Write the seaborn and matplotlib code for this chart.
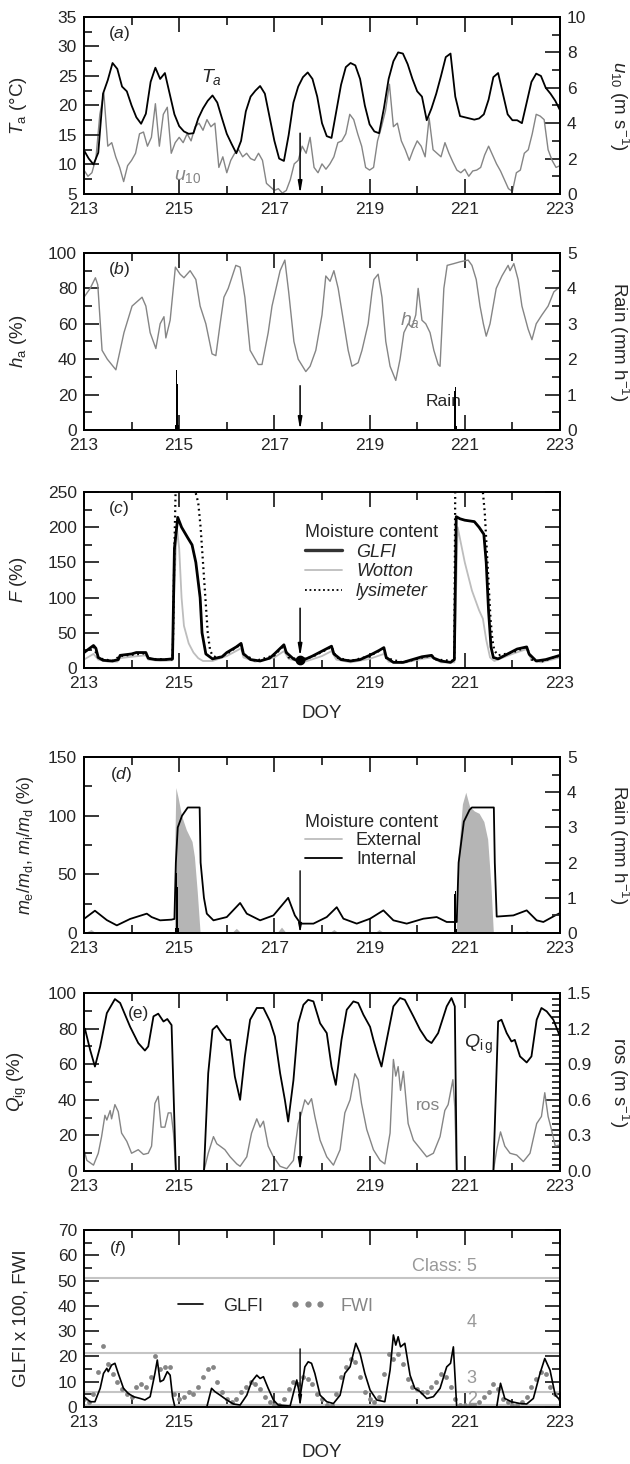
import numpy as np
import matplotlib
matplotlib.use("Agg")
import matplotlib.pyplot as plt
import seaborn as sns
from matplotlib.ticker import FixedLocator, MultipleLocator
from matplotlib.lines import Line2D

sns.set_style("ticks")
plt.rcParams["font.family"] = ["Liberation Sans", "DejaVu Sans"]
plt.rcParams["mathtext.fontset"] = "custom"
plt.rcParams["mathtext.rm"] = "Liberation Sans"
plt.rcParams["mathtext.it"] = "Liberation Sans:italic"
plt.rcParams["mathtext.bf"] = "Liberation Sans:bold"
plt.rcParams["axes.linewidth"] = 1.4
plt.rcParams["axes.edgecolor"] = "black"

# ---------------- data ----------------
# (a) air temperature, 0.1 day steps, and 10 m wind, 2-hourly
doy_ta = 213 + np.arange(101) / 10
ta = [12.4, 11.0, 10.0, 12.0, 22.0, 24.3, 27.2, 26.2, 23.2, 22.4,
      20.0, 18.0, 16.9, 18.6, 24.0, 26.4, 24.5, 25.5, 22.0, 18.5,
      16.5, 15.6, 15.2, 15.3, 17.8, 19.5, 20.8, 21.7, 20.5, 17.8,
      15.2, 13.5, 11.9, 14.0, 19.0, 21.5, 22.5, 23.3, 22.0, 18.0,
      14.0, 11.0, 10.6, 15.0, 20.5, 23.2, 24.8, 25.6, 24.5, 21.5,
      17.0, 14.8, 14.5, 19.0, 23.5, 26.5, 27.2, 26.8, 24.5, 20.0,
      16.8, 15.6, 15.3, 19.5, 24.5, 27.5, 29.0, 28.8, 27.0, 24.5,
      22.4, 21.5, 17.5, 19.5, 22.0, 25.0, 28.2, 28.8, 21.5, 18.2,
      18.0, 17.8, 17.6, 17.8, 18.5, 21.0, 24.8, 25.5, 22.0, 18.5,
      17.5, 17.5, 17.0, 20.5, 24.0, 25.4, 25.0, 23.0, 22.0, 20.8,
      19.2]
doy_u = 213 + np.arange(121) / 12
u10 = [1.35, 1.0, 1.2, 2.0, 4.5, 5.7, 2.7, 2.9, 2.1, 1.5,
       0.7, 1.6, 1.9, 2.3, 3.4, 3.5, 2.7, 3.2, 5.1, 2.7,
       4.5, 4.9, 2.3, 2.9, 3.2, 2.9, 3.4, 3.0, 3.8, 4.0,
       3.6, 4.2, 3.8, 4.0, 1.5, 2.1, 1.2, 1.9, 2.3, 2.5,
       2.1, 2.3, 2.0, 1.9, 2.3, 1.9, 0.6, 0.4, 0.2, 0.3,
       0.05, 0.2, 0.8, 1.7, 1.9, 2.7, 2.3, 3.2, 1.5, 1.2,
       1.7, 1.4, 1.7, 2.1, 2.9, 3.0, 3.4, 4.5, 4.2, 3.4,
       2.7, 1.5, 1.35, 1.5, 3.0, 3.8, 4.7, 6.2, 3.8, 4.0,
       3.0, 2.5, 1.9, 2.5, 3.0, 2.7, 2.1, 4.3, 2.5, 2.3,
       2.1, 2.9, 2.3, 1.8, 1.35, 1.2, 1.4, 1.0, 1.3, 1.35,
       1.5, 2.2, 2.7, 2.2, 1.7, 1.3, 0.8, 0.3, 0.15, 1.2,
       1.35, 2.3, 2.5, 3.4, 4.5, 4.4, 4.2, 2.5, 1.9, 1.5,
       1.6]

# (b) relative humidity and rain
ha_doy = [213.00, 213.13, 213.24, 213.29, 213.38, 213.49, 213.67, 213.84, 214.01, 214.22,
          214.30, 214.39, 214.51, 214.60, 214.68, 214.72, 214.81, 214.92, 215.02, 215.10,
          215.23, 215.35, 215.44, 215.56, 215.69, 215.77, 215.86, 215.94, 216.03, 216.19,
          216.28, 216.38, 216.49, 216.66, 216.74, 216.87, 216.95, 217.12, 217.22, 217.30,
          217.41, 217.50, 217.66, 217.75, 217.87, 218.00, 218.08, 218.17, 218.25, 218.34,
          218.46, 218.55, 218.63, 218.76, 218.84, 218.97, 219.05, 219.09, 219.18, 219.26,
          219.34, 219.43, 219.55, 219.64, 219.72, 219.81, 219.89, 219.97, 220.02, 220.10,
          220.18, 220.27, 220.35, 220.44, 220.48, 220.56, 220.63, 220.77, 220.90, 221.07,
          221.15, 221.24, 221.32, 221.39, 221.45, 221.53, 221.66, 221.78, 221.91, 221.95,
          222.03, 222.12, 222.20, 222.33, 222.41, 222.50, 222.62, 222.75, 222.87, 223.00]
ha = [75, 80, 86, 82, 45, 40, 34, 55, 70, 75,
      70, 55, 46, 60, 64, 52, 62, 92, 88, 86,
      90, 85, 70, 60, 43, 42, 60, 75, 80, 93,
      92, 75, 45, 37, 37, 55, 70, 90, 96, 78,
      50, 40, 33, 36, 45, 65, 87, 84, 90, 80,
      60, 45, 36, 38, 45, 60, 78, 85, 88, 75,
      50, 36, 28, 40, 55, 60, 58, 65, 80, 62,
      60, 55, 45, 37, 36, 80, 93, 94, 95, 96,
      93, 85, 70, 60, 53, 60, 80, 87, 93, 90,
      94, 85, 70, 57, 51, 60, 65, 70, 78, 81]
rain_doy = [214.92, 214.945, 214.965, 214.985, 220.785, 220.805, 220.825]
rain = [0.15, 1.7, 1.3, 0.15, 1.1, 1.2, 0.1]

# (c) fuel moisture content
glfi_doy = [213.0, 213.1, 213.2, 213.25, 213.3, 213.4, 213.6, 213.72, 213.76, 214.0,
            214.1, 214.3, 214.35, 214.5, 214.7, 214.86, 214.9, 214.97, 215.05, 215.18,
            215.27, 215.35, 215.44, 215.48, 215.56, 215.7, 215.9, 216.0, 216.2, 216.3,
            216.35, 216.5, 216.7, 216.9, 217.0, 217.2, 217.25, 217.4, 217.5, 217.6,
            217.8, 218.0, 218.2, 218.25, 218.4, 218.6, 218.8, 219.0, 219.2, 219.3,
            219.35, 219.5, 219.7, 219.9, 220.1, 220.3, 220.35, 220.5, 220.7, 220.78,
            220.82, 220.9, 221.0, 221.2, 221.3, 221.4, 221.45, 221.5, 221.55, 221.6,
            221.7, 221.9, 222.1, 222.3, 222.35, 222.5, 222.7, 222.9, 223.0]
glfi_f = [22, 27, 32, 28, 15, 11, 10, 12, 18, 20,
          22, 22, 14, 12, 12, 13, 170, 214, 200, 185,
          175, 150, 100, 50, 20, 13, 16, 22, 30, 35,
          20, 12, 10, 14, 20, 33, 22, 13, 10, 11,
          17, 24, 31, 20, 12, 10, 12, 18, 25, 29,
          15, 8, 8, 12, 16, 18, 14, 10, 8, 12,
          215, 212, 210, 208, 200, 190, 150, 80, 30, 15,
          13, 20, 27, 30, 20, 10, 12, 16, 18]
wot_doy = [213.0, 213.2, 213.3, 213.5, 213.7, 213.76, 214.0, 214.3, 214.35, 214.6,
           214.86, 214.9, 214.95, 215.0, 215.05, 215.1, 215.2, 215.3, 215.4, 215.5,
           215.7, 216.0, 216.3, 216.35, 216.6, 217.0, 217.2, 217.3, 217.6, 218.0,
           218.2, 218.3, 218.6, 219.0, 219.3, 219.4, 219.7, 220.1, 220.3, 220.5,
           220.78, 220.85, 221.0, 221.15, 221.3, 221.38, 221.45, 221.53, 221.62, 222.0,
           222.3, 222.4, 222.6, 223.0]
wot_f = [12, 20, 12, 9, 9, 14, 16, 18, 12, 10,
         11, 120, 200, 170, 100, 60, 35, 22, 14, 10,
         10, 17, 28, 15, 9, 15, 24, 13, 8, 17,
         24, 12, 8, 13, 20, 9, 7, 13, 15, 8,
         8, 200, 150, 110, 82, 70, 40, 15, 10, 20,
         27, 12, 8, 15]
lys_doy = [213.0, 213.2, 213.3, 213.6, 213.76, 214.3, 214.35, 214.86, 214.87, 214.9,
           214.93, 215.3, 215.35, 215.4, 215.45, 215.5, 215.55, 215.6, 215.65, 215.7,
           215.8, 216.0, 216.3, 216.35, 216.6, 217.0, 217.2, 217.3, 217.54, 217.8,
           218.2, 218.3, 218.6, 219.0, 219.3, 219.35, 219.7, 220.3, 220.4, 220.78,
           220.8, 221.36, 221.42, 221.46, 221.5, 221.54, 221.58, 221.62, 221.7, 222.0,
           222.3, 222.4, 222.6, 223.0]
lys_f = [22, 30, 14, 10, 17, 21, 13, 12, 40, 170,
         270, 265, 248, 235, 200, 150, 100, 50, 25, 18,
         14, 20, 34, 20, 10, 18, 32, 15, 12, 16,
         30, 15, 10, 17, 28, 14, 8, 18, 12, 10,
         270, 265, 220, 170, 120, 70, 40, 25, 18, 22,
         30, 12, 9, 18]

# (d) internal and external moisture ratio
int_doy = [213.0, 213.23, 213.48, 213.69, 213.97, 214.32, 214.42, 214.6, 214.84, 214.9,
           214.93, 214.97, 215.06, 215.18, 215.43, 215.45, 215.52, 215.58, 215.72, 216.0,
           216.28, 216.42, 216.7, 216.98, 217.29, 217.43, 217.55, 217.82, 218.1, 218.31,
           218.45, 218.73, 219.01, 219.29, 219.5, 219.78, 220.13, 220.41, 220.62, 220.83,
           220.87, 220.98, 221.1, 221.15, 221.61, 221.63, 221.67, 222.02, 222.3, 222.51,
           222.65, 222.9, 223.0]
int_m = [12, 19, 11, 6.5, 12, 16.5, 13.6, 10.8, 11.4, 12,
         60, 90, 100, 107, 107, 60, 30, 16.5, 10.8, 13.6,
         25.6, 16.5, 10.8, 15, 30, 15, 8, 8, 13.6, 22,
         12.2, 8, 12.2, 19.3, 10.8, 8, 12.2, 13.6, 9.4, 9.4,
         60, 95, 105, 107, 107, 60, 14, 15, 19.3, 10.8,
         9.4, 15, 17]
ext_doy = [213.0, 213.1, 213.15, 213.25, 214.9, 214.91, 214.93, 214.98, 215.05, 215.15,
           215.27, 215.32, 215.38, 215.44, 216.1, 216.2, 216.3, 217.05, 217.15, 217.25,
           218.15, 218.25, 218.35, 219.1, 219.2, 219.3, 220.82, 220.85, 220.95, 221.02,
           221.1, 221.2, 221.3, 221.4, 221.48, 221.55, 221.6, 222.2, 222.3, 222.4,
           223.0]
ext_m = [0, 2, 3, 0, 0, 80, 124, 115, 100, 88,
         78, 65, 35, 0, 0, 4, 0, 0, 5, 0,
         0, 3, 0, 0, 3, 0, 0, 60, 110, 120,
         108, 104, 102, 95, 80, 40, 0, 0, 2, 0,
         0]

# (e) probability of ignition and rate of spread
q_doy = [213.02, 213.13, 213.23, 213.34, 213.48, 213.65, 213.76, 213.97, 214.14, 214.28,
         214.35, 214.46, 214.56, 214.67, 214.75, 214.84, 214.88, 214.93, 215.52, 215.61,
         215.70, 215.79, 215.89, 216.00, 216.07, 216.17, 216.28, 216.38, 216.49, 216.63,
         216.77, 216.91, 217.01, 217.12, 217.22, 217.29, 217.40, 217.50, 217.61, 217.71,
         217.82, 217.96, 218.10, 218.20, 218.29, 218.41, 218.52, 218.66, 218.76, 218.87,
         219.01, 219.08, 219.18, 219.25, 219.36, 219.50, 219.64, 219.74, 219.92, 220.06,
         220.20, 220.30, 220.44, 220.62, 220.72, 220.79, 220.83, 221.60, 221.70, 221.77,
         221.88, 221.98, 222.05, 222.16, 222.30, 222.40, 222.51, 222.61, 222.72, 222.86,
         223.00]
q_ig = [80, 68, 58.7, 70, 88.7, 96.6, 94.4, 81, 71.9, 67.7,
        70, 86.9, 88.4, 84, 85.4, 82, 45.6, 0, 0, 55,
        79.4, 81.6, 77.5, 73.7, 73.7, 53, 40, 64.4, 85, 91.6,
        91.6, 84, 75.6, 55, 40, 27.8, 51, 83, 93.4, 96.2,
        95.3, 83, 77.5, 58.7, 48.4, 73.7, 90.6, 95.3, 94.4, 87.8,
        81, 73.7, 64.4, 58.7, 73.7, 92.5, 97.2, 96.2, 86.9, 79.4,
        73.7, 71.9, 77.5, 92.5, 97.2, 92.5, 0, 0, 84, 85,
        77.5, 72.8, 73.7, 64.4, 61, 64.4, 85, 91.6, 89.7, 85,
        75.6]
ros_doy = [213.00, 213.06, 213.20, 213.30, 213.37, 213.44, 213.48, 213.55, 213.58, 213.65,
           213.72, 213.79, 213.90, 214.00, 214.14, 214.25, 214.35, 214.42, 214.49, 214.56,
           214.62, 214.70, 214.77, 214.83, 214.88, 214.93, 215.52, 215.61, 215.72, 215.79,
           215.86, 215.96, 216.07, 216.21, 216.28, 216.42, 216.52, 216.63, 216.70, 216.77,
           216.87, 216.98, 217.12, 217.26, 217.40, 217.50, 217.57, 217.64, 217.71, 217.78,
           217.85, 217.96, 218.10, 218.24, 218.38, 218.48, 218.59, 218.69, 218.76, 218.83,
           218.94, 219.08, 219.22, 219.32, 219.43, 219.50, 219.55, 219.60, 219.65, 219.71,
           219.81, 219.92, 220.02, 220.20, 220.34, 220.48, 220.58, 220.65, 220.75, 220.79,
           220.83, 221.60, 221.67, 221.75, 221.84, 221.95, 222.09, 222.23, 222.37, 222.51,
           222.61, 222.68, 222.75, 222.82, 222.90, 223.00]
ros = [0.18, 0.09, 0.05, 0.15, 0.29, 0.47, 0.43, 0.51, 0.44, 0.56,
       0.50, 0.32, 0.25, 0.15, 0.18, 0.14, 0.15, 0.21, 0.57, 0.63,
       0.37, 0.37, 0.49, 0.49, 0.32, 0.0, 0.0, 0.15, 0.29, 0.23,
       0.21, 0.18, 0.12, 0.06, 0.04, 0.12, 0.32, 0.44, 0.37, 0.42,
       0.21, 0.12, 0.04, 0.02, 0.09, 0.40, 0.49, 0.60, 0.56, 0.61,
       0.46, 0.26, 0.12, 0.05, 0.18, 0.49, 0.60, 0.82, 0.77, 0.57,
       0.35, 0.18, 0.09, 0.06, 0.32, 0.94, 0.80, 0.88, 0.68, 0.84,
       0.40, 0.26, 0.21, 0.12, 0.15, 0.29, 0.51, 0.56, 0.77, 0.54,
       0.0, 0.0, 0.18, 0.33, 0.21, 0.15, 0.135, 0.08, 0.15, 0.40,
       0.46, 0.66, 0.46, 0.35, 0.21, 0.22]

# (f) fire danger indices
gl_doy = [213.00, 213.13, 213.23, 213.34, 213.41, 213.48, 213.51, 213.58, 213.65, 213.72,
          213.83, 213.93, 214.04, 214.18, 214.28, 214.39, 214.49, 214.54, 214.60, 214.67,
          214.75, 214.81, 214.86, 214.91, 215.58, 215.68, 215.75, 215.86, 216.00, 216.14,
          216.28, 216.42, 216.52, 216.63, 216.70, 216.77, 216.87, 216.98, 217.08, 217.33,
          217.47, 217.54, 217.64, 217.71, 217.78, 217.85, 217.96, 218.10, 218.24, 218.38,
          218.48, 218.59, 218.71, 218.80, 218.90, 219.01, 219.15, 219.32, 219.43, 219.50,
          219.55, 219.60, 219.65, 219.74, 219.85, 219.95, 220.06, 220.20, 220.34, 220.48,
          220.62, 220.70, 220.76, 220.83, 221.67, 221.75, 221.84, 221.98, 222.16, 222.30,
          222.44, 222.58, 222.68, 222.79, 222.90, 223.00]
glfi100 = [4.1, 2.1, 2.1, 7.4, 13.3, 15.3, 14, 16.6, 17.3, 13.3,
           7.4, 5.4, 4.1, 3.4, 2.8, 4.1, 13.3, 18.6, 10, 10.7,
           14, 12.6, 4.1, 0, 0, 7.4, 6.1, 4.7, 2.8, 1.2,
           0.8, 4.7, 10, 12.6, 11.3, 12, 7.4, 2.8, 0.8, 0.4,
           10.7, 4.1, 15.9, 17.9, 17.3, 13.3, 4.7, 2.1, 1.4, 4.7,
           13.3, 15.9, 25.2, 21.2, 13.3, 6.7, 2.8, 2.1, 14.6, 28.5,
           24.5, 27.8, 23.8, 25.2, 12.6, 7.4, 6.1, 3.4, 4.1, 7.4,
           15.9, 17.3, 23.8, 0, 0, 9.4, 3.4, 2.1, 1.4, 1.2,
           3.4, 13.3, 19.2, 14.6, 4.7, 2.8]
doy_fwi = 213 + np.arange(101) / 10
fwi = [3, 2, 5, 14, 24, 17, 13, 10, 7, 5,
       4, 8, 9, 8, 12, 20, 15, 16, 16, 5,
       3, 4, 6, 5, 8, 12, 15, 16, 10, 6,
       3, 2, 3, 6, 8, 10, 9, 7, 4, 2,
       1, 1, 3, 7, 10, 9, 12, 11, 9, 5,
       3, 1, 1, 5, 12, 16, 19, 18, 12, 6,
       3, 2, 4, 13, 21, 19, 21, 17, 11, 8,
       7, 6, 6, 8, 10, 13, 12, 8, 3, 1,
       1, 1, 1, 2, 4, 6, 9, 7, 3, 2,
       1, 1, 2, 4, 8, 11, 14, 13, 8, 5,
       3]
class_bounds = [0.8, 6.0, 21.3, 51.2]
class_labels = ["2", "3", "4", "Class: 5"]
class_label_y = [2.8, 11.2, 33.3, 55.7]

arrow_doy = 217.54

# ---------------- figure ----------------
fig = plt.figure(figsize=(6.3, 14.64), dpi=100)
L, W = 0.1333, 0.7556
boxes = [(0.8675, 0.1209), (0.7063, 0.1209), (0.5437, 0.1202),
         (0.3627, 0.1202), (0.2001, 0.1216), (0.0389, 0.1209)]
axs = [fig.add_axes([L, b, W, h]) for b, h in boxes]

GRAY = "#858585"
LIGHT = "#bdbdbd"
FS = 12.5


def style(ax, ylim, major, minor, right=True):
    ax.set_xlim(213, 223)
    ax.set_ylim(*ylim)
    ax.xaxis.set_major_locator(FixedLocator(range(213, 224, 2)))
    ax.xaxis.set_minor_locator(FixedLocator(range(213, 224)))
    ax.yaxis.set_major_locator(MultipleLocator(major))
    ax.yaxis.set_minor_locator(MultipleLocator(minor))
    ax.tick_params(which="both", direction="in", top=True, right=right,
                   labelsize=FS, width=1.3)
    ax.tick_params(which="major", length=11)
    ax.tick_params(which="minor", length=6)
    ax.tick_params(axis="x", which="major", pad=6)
    ax.tick_params(axis="y", which="major", pad=5)
    ax.set_xlabel("")
    ax.set_ylabel("")


def style_right(ax2, ylim, major, minor, fmt=None):
    ax2.set_ylim(*ylim)
    ax2.yaxis.set_major_locator(MultipleLocator(major))
    ax2.yaxis.set_minor_locator(MultipleLocator(minor))
    ax2.tick_params(which="both", direction="in", labelsize=FS, width=1.3, pad=5)
    ax2.tick_params(which="major", length=11)
    ax2.tick_params(which="minor", length=6)
    if fmt:
        ax2.yaxis.set_major_formatter(fmt)


def arrow(ax, y0, y1):
    ax.annotate("", xy=(arrow_doy, y1), xytext=(arrow_doy, y0),
                arrowprops=dict(arrowstyle="-|>,head_length=0.7,head_width=0.12",
                                color="k", lw=1.1, shrinkA=0, shrinkB=0))


def ylab(ax, text, x=-0.115, size=13.5):
    ax.set_ylabel(text, fontsize=size)
    ax.yaxis.set_label_coords(x, 0.5)


def rlab(ax2, text):
    ax2.set_ylabel(text, fontsize=13.5, rotation=270, va="center", ha="center")
    ax2.yaxis.set_label_coords(1.125, 0.5)


def line(ax, x, y, color, lw, **kw):
    sns.lineplot(x=np.asarray(x), y=np.asarray(y), ax=ax, color=color, lw=lw,
                 estimator=None, legend=False, **kw)


# (a)
ax = axs[0]
ax2 = ax.twinx()
line(ax2, doy_u, u10, GRAY, 1.0)
line(ax, doy_ta, ta, "k", 1.3)
ax.set_zorder(ax2.get_zorder() + 1)
ax.patch.set_visible(False)
style(ax, (5, 35), 5, 2.5, right=False)
style_right(ax2, (0, 10), 2, 1)
arrow(ax, 15.3, 5)
ax.text(213.5, 32.2, r"($\mathit{a}$)", fontsize=FS, va="center")
ax.text(215.45, 24.8, r"$T_a$", fontsize=14, va="center")
ax.text(214.9, 7.9, r"$u_{\mathit{10}}$", fontsize=14, va="center", color=GRAY)
ylab(ax, r"$T_\mathrm{a}$ (°C)")
rlab(ax2, r"$u_{10}$ (m s$^{-1}$)")

# (b)
ax = axs[1]
ax2 = ax.twinx()
line(ax, ha_doy, ha, GRAY, 1.0)
ax2.bar(rain_doy, rain, width=0.018, color="k", linewidth=0)
style(ax, (0, 100), 20, 10, right=False)
style_right(ax2, (0, 5), 1, 0.5)
arrow(ax, 25, 0)
ax.text(213.5, 90.6, r"($\mathit{b}$)", fontsize=FS, va="center")
ax.text(219.64, 62, r"$h_a$", fontsize=14, va="center", color=GRAY)
ax.text(220.18, 16, "Rain", fontsize=FS, va="center")
ylab(ax, r"$h_\mathrm{a}$ (%)")
rlab(ax2, r"Rain (mm h$^{-1}$)")

# (c)
ax = axs[2]
line(ax, wot_doy, wot_f, LIGHT, 1.3)
line(ax, lys_doy, lys_f, "k", 1.6, linestyle=(0, (0.8, 1.6)))
line(ax, glfi_doy, glfi_f, "k", 2.0)
style(ax, (0, 250), 50, 25)
arrow(ax, 85, 16)
ax.plot([arrow_doy], [12], "o", color="k", ms=6)
ax.text(213.5, 226, r"($\mathit{c}$)", fontsize=FS, va="center")
ylab(ax, r"$F$ (%)")
ax.set_xlabel("DOY", fontsize=13.5, labelpad=10)
h_c = [Line2D([], [], color="#333333", lw=2.4),
       Line2D([], [], color=LIGHT, lw=1.3),
       Line2D([], [], color="k", lw=1.3, linestyle=(0, (1, 1.5)))]
leg = ax.legend(h_c, ["GLFI", "Wotton", "lysimeter"], title="Moisture content",
                loc="upper left", bbox_to_anchor=(0.45, 0.86), frameon=False,
                prop={"style": "italic", "size": 13}, title_fontsize=13,
                handlelength=2.0, labelspacing=0.15, borderaxespad=0)
leg._legend_box.align = "left"

# (d)
ax = axs[3]
ax2 = ax.twinx()
ax.fill_between(ext_doy, ext_m, 0, color="#b5b5b5", linewidth=0)
line(ax, int_doy, int_m, "k", 1.3)
ax2.bar(rain_doy, rain, width=0.012, color="k", linewidth=0)
style(ax, (0, 150), 50, 25, right=False)
style_right(ax2, (0, 5), 1, 0.5)
ax.annotate("", xy=(arrow_doy, 0), xytext=(arrow_doy, 53),
            arrowprops=dict(arrowstyle="-|>,head_length=0.5,head_width=0.1",
                            color="k", lw=1.0, shrinkA=0, shrinkB=0))
ax.text(213.55, 135, r"($\mathit{d}$)", fontsize=FS, va="center")
ylab(ax, r"$m_\mathrm{e}/m_\mathrm{d}$, $m_\mathrm{i}/m_\mathrm{d}$ (%)", x=-0.1, size=13)
rlab(ax2, r"Rain (mm h$^{-1}$)")
h_d = [Line2D([], [], color=LIGHT, lw=1.3), Line2D([], [], color="k", lw=1.3)]
leg = ax.legend(h_d, ["External", "Internal"], title="Moisture content",
                loc="upper left", bbox_to_anchor=(0.45, 0.72), frameon=False,
                prop={"size": 13}, title_fontsize=13, handlelength=2.0,
                labelspacing=0.1, borderaxespad=0)
leg._legend_box.align = "left"

# (e)
ax = axs[4]
ax2 = ax.twinx()
line(ax2, ros_doy, ros, GRAY, 1.0)
line(ax, q_doy, q_ig, "k", 1.3)
ax.set_zorder(ax2.get_zorder() + 1)
ax.patch.set_visible(False)
style(ax, (0, 100), 20, 10, right=False)
style_right(ax2, (0, 1.5), 0.3, 0.05, fmt="{x:.1f}")
arrow(ax, 33, 0)
ax.text(213.92, 88.6, "(e)", fontsize=FS, va="center")
ax.text(220.98, 71.4, r"$Q_{\mathrm{i\,g}}$", fontsize=14, va="center")
ax.text(219.97, 37.1, "ros", fontsize=FS, va="center", color=GRAY)
ylab(ax, r"$Q_\mathrm{ig}$ (%)")
rlab(ax2, r"ros (m s$^{-1}$)")

# (f)
ax = axs[5]
for yb in class_bounds:
    ax.axhline(yb, color="#c4c4c4", lw=1.5, zorder=1)
sns.scatterplot(x=doy_fwi, y=fwi, ax=ax, color=GRAY, s=12, linewidth=0, zorder=2)
line(ax, gl_doy, glfi100, "k", 1.2, zorder=3)
style(ax, (0, 70), 10, 5)
ax.annotate("", xy=(arrow_doy, 0), xytext=(arrow_doy, 23),
            arrowprops=dict(arrowstyle="-|>,head_length=0.6,head_width=0.1",
                            color="k", lw=1.0, shrinkA=0, shrinkB=0))
for lab, yl in zip(class_labels, class_label_y):
    ax.text(221.25, yl, lab, fontsize=13, va="center", ha="right", color="#999999")
ax.text(213.52, 62.7, r"($\mathit{f}$)", fontsize=FS, va="center")
ylab(ax, "GLFI x 100, FWI")
ax.set_xlabel("DOY", fontsize=13.5, labelpad=10)
h_f = [Line2D([], [], color="k", lw=1.2),
       Line2D([], [], color=GRAY, marker="o", ms=3.5, linestyle="none")]
leg = ax.legend(h_f, ["GLFI", "FWI"], loc="center left", bbox_to_anchor=(0.17, 0.57),
                ncol=2, frameon=False, prop={"size": 13}, numpoints=3,
                handlelength=2.0, columnspacing=1.5, borderaxespad=0)
leg.get_texts()[1].set_color(GRAY)

fig.savefig("out.png", dpi=100)
